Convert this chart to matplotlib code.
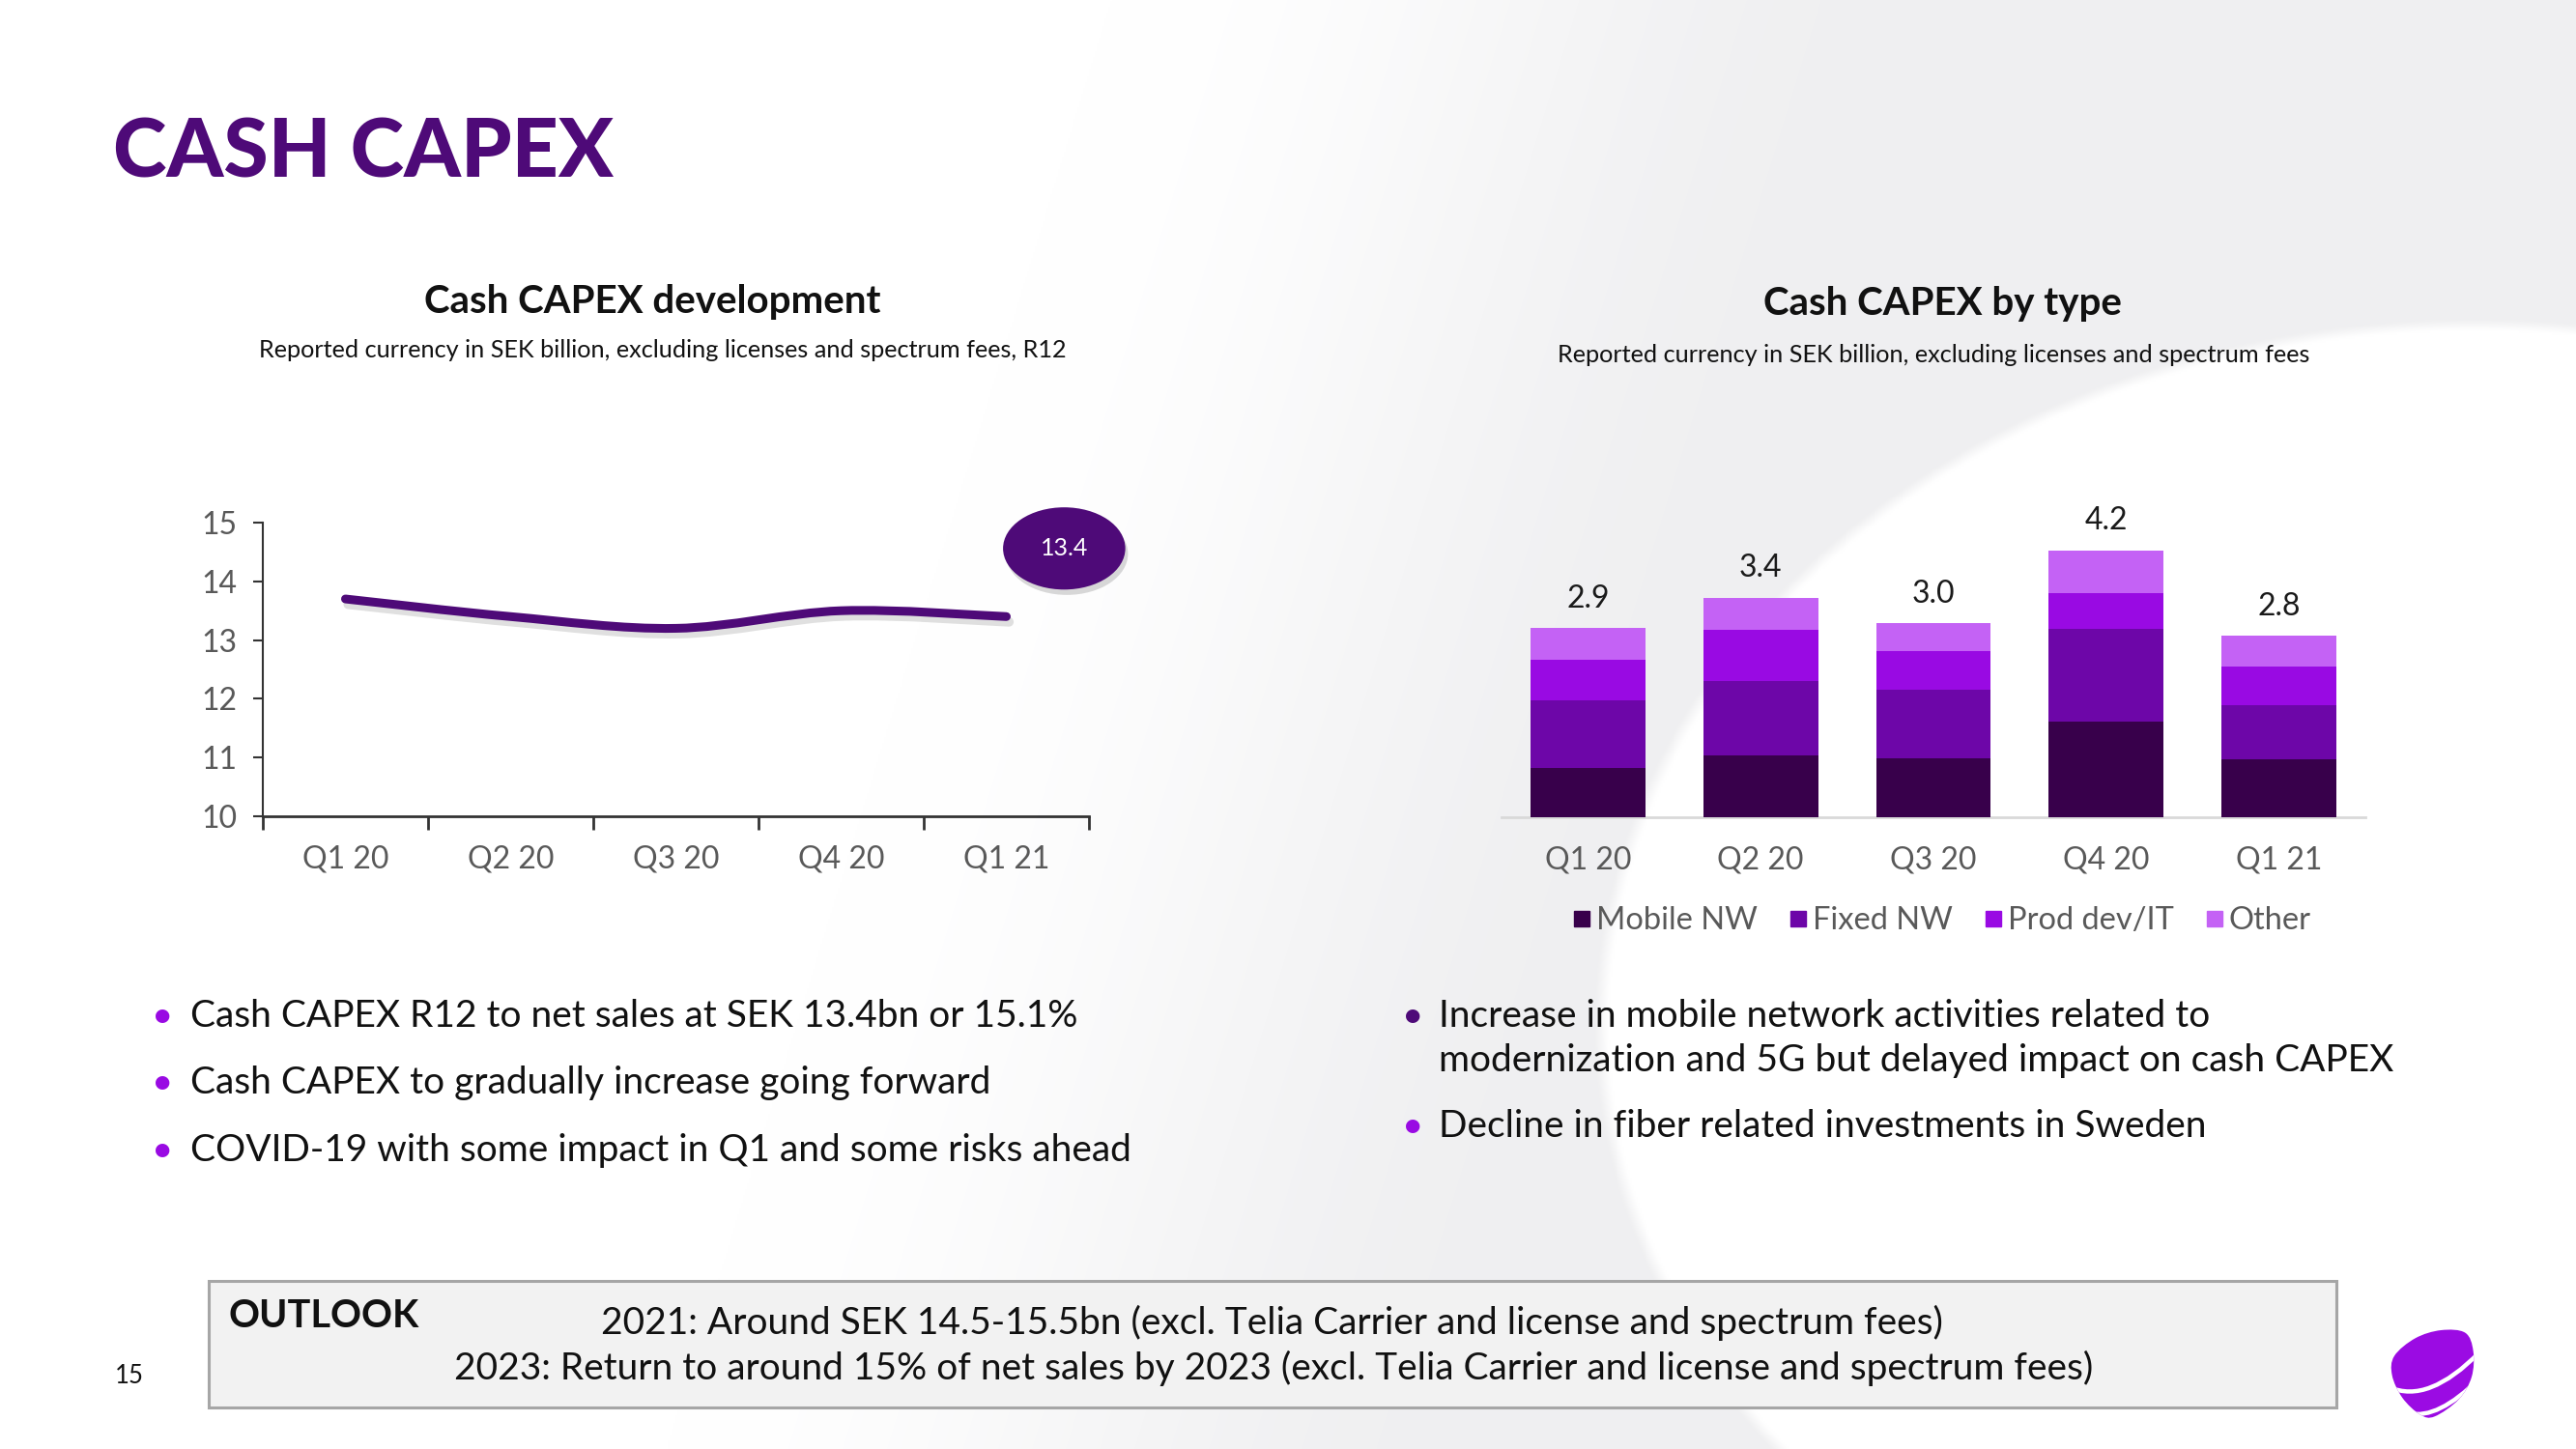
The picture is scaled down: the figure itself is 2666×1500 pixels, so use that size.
import numpy as np
import matplotlib
matplotlib.use("Agg")
import matplotlib.pyplot as plt
from matplotlib.path import Path
from matplotlib.patches import PathPatch, Ellipse, Rectangle
from matplotlib.lines import Line2D
from matplotlib.transforms import ScaledTranslation

# ---------------- data ----------------
line_categories = ["Q1 20", "Q2 20", "Q3 20", "Q4 20", "Q1 21"]
line_values = [13.7, 13.4, 13.2, 13.5, 13.4]
line_yticks = [10, 11, 12, 13, 14, 15]
last_label = "13.4"

bar_categories = ["Q1 20", "Q2 20", "Q3 20", "Q4 20", "Q1 21"]
mobile_nw = [0.76, 0.94, 0.91, 1.46, 0.89]
fixed_nw = [1.03, 1.14, 1.05, 1.42, 0.82]
prod_dev_it = [0.63, 0.79, 0.59, 0.55, 0.60]
other = [0.48, 0.49, 0.42, 0.66, 0.47]
bar_total_labels = ["2.9", "3.4", "3.0", "4.2", "2.8"]
series_names = ["Mobile NW", "Fixed NW", "Prod dev/IT", "Other"]

left_bullets = ["Cash CAPEX R12 to net sales at SEK 13.4bn or 15.1%",
                "Cash CAPEX to gradually increase going forward",
                "COVID-19 with some impact in Q1 and some risks ahead"]
right_bullets = ["Increase in mobile network activities related to",
                 "modernization and 5G but delayed impact on cash CAPEX",
                 "Decline in fiber related investments in Sweden"]
outlook_lines = ["2021: Around SEK 14.5-15.5bn (excl. Telia Carrier and license and spectrum fees)",
                 "2023: Return to around 15% of net sales by 2023 (excl. Telia Carrier and license and spectrum fees)"]

# ---------------- style ----------------
FONT = ["Lato", "DejaVu Sans"]
plt.rcParams["font.family"] = FONT
DARK = "#4E0A78"
PURPLE = "#990AE3"
series_colors = ["#38004B", "#6D06A8", "#990AE3", "#C462F5"]
GRAYTXT = "#595959"

W, H = 2666, 1500
fig = plt.figure(figsize=(W / 100, H / 100), dpi=100)
fx = lambda px: px / W
fy = lambda py: 1 - py / H

# ---------------- background ----------------
bg = fig.add_axes([0, 0, 1, 1], zorder=-10)
bg.set_axis_off()
yy, xx = np.mgrid[0:H:2, 0:W:2].astype(float)
edge = 1150 - 0.307 * yy
t = np.clip((xx - edge) / 800.0, 0, 1)
t = t * t * (3 - 2 * t)
g = 1 - 0.06 * t
e = ((xx - 2560) / 910.0) ** 2 + ((yy - 1060) / 730.0) ** 2
inside = np.clip((1.0 - e) / 0.03, 0, 1)
g = g * (1 - inside) + 1.0 * inside
img = np.dstack([g, g, np.minimum(g + 0.006 * (1 - inside) * t, 1)])
img = np.clip(img, 0, 1)
bg.imshow(img, extent=[0, W, H, 0], aspect="auto", interpolation="bilinear")
bg.set_xlim(0, W)
bg.set_ylim(H, 0)

# ---------------- titles ----------------
fig.text(fx(117), fy(184), "CASH CAPEX", fontsize=60.5, fontweight="black",
         color=DARK, ha="left", va="baseline")
fig.text(fx(675), fy(324), "Cash CAPEX development", fontsize=29, fontweight="bold",
         color="#111111", ha="center", va="baseline")
fig.text(fx(686), fy(370), "Reported currency in SEK billion, excluding licenses and spectrum fees, R12",
         fontsize=18.2, color="#111111", ha="center", va="baseline")
fig.text(fx(2010), fy(326), "Cash CAPEX by type", fontsize=29, fontweight="bold",
         color="#111111", ha="center", va="baseline")
fig.text(fx(2001), fy(375), "Reported currency in SEK billion, excluding licenses and spectrum fees",
         fontsize=18.2, color="#111111", ha="center", va="baseline")

# ---------------- left line chart ----------------
ax1 = fig.add_axes([fx(272), fy(845), fx(855), 304 / H])
ax1.set_facecolor("none")
n = len(line_values)
xs = np.arange(n) + 0.5
P = np.column_stack([xs, line_values])
Pext = np.vstack([P[0], P, P[-1]])
verts = [tuple(P[0])]
codes = [Path.MOVETO]
for i in range(n - 1):
    p0, p1, p2, p3 = Pext[i], Pext[i + 1], Pext[i + 2], Pext[i + 3]
    c1 = p1 + (p2 - p0) / 6.0
    c2 = p2 - (p3 - p1) / 6.0
    verts += [tuple(c1), tuple(c2), tuple(p2)]
    codes += [Path.CURVE4] * 3
curve = Path(verts, codes)
shadow_tr = ax1.transData + ScaledTranslation(2 / 72, -4 / 72, fig.dpi_scale_trans)
ax1.add_patch(PathPatch(curve, fill=False, lw=7, edgecolor="#000000", alpha=0.12,
                        capstyle="round", transform=shadow_tr))
ax1.add_patch(PathPatch(curve, fill=False, lw=6.5, edgecolor=DARK, capstyle="round"))

bx, by = xs[-1] + 0.35, 14.56
ax1.add_patch(Ellipse((bx, by), 0.74, 1.40, facecolor="#000000", alpha=0.15,
                      transform=shadow_tr, clip_on=False))
ax1.add_patch(Ellipse((bx, by), 0.74, 1.40, facecolor=DARK, edgecolor="none", clip_on=False))
ax1.text(bx, by, last_label, color="white", fontsize=18, ha="center", va="center")

ax1.set_xlim(0, n)
ax1.set_ylim(10, 15)
ax1.set_yticks(line_yticks)
ax1.set_xticks(np.arange(n + 1))
ax1.set_xticklabels([])
ax1.set_xticks(xs, minor=True)
ax1.set_xticklabels(line_categories, minor=True)
ax1.tick_params(axis="x", which="major", direction="out", length=10, width=2, color="#333333")
ax1.tick_params(axis="x", which="minor", length=0, pad=21, labelsize=23, labelcolor=GRAYTXT)
ax1.tick_params(axis="y", direction="out", length=7, width=1.5, color="#333333",
                pad=12, labelsize=23, labelcolor=GRAYTXT)
for s in ["top", "right"]:
    ax1.spines[s].set_visible(False)
ax1.spines["left"].set_color("#333333")
ax1.spines["left"].set_linewidth(1.5)
ax1.spines["bottom"].set_color("#333333")
ax1.spines["bottom"].set_linewidth(2)

# ---------------- right stacked bars ----------------
ax2 = fig.add_axes([fx(1554), fy(846), fx(894), 304 / H])
ax2.set_facecolor("none")
bxs = np.arange(len(bar_categories))
bottom = np.zeros(len(bar_categories))
for vals, col, name in zip([mobile_nw, fixed_nw, prod_dev_it, other], series_colors, series_names):
    ax2.bar(bxs, vals, width=0.665, bottom=bottom, color=col, label=name,
            edgecolor="none", zorder=3)
    bottom = bottom + np.array(vals)
for x, tot, lab in zip(bxs, bottom, bar_total_labels):
    ax2.annotate(lab, (x, tot), xytext=(0, 22), textcoords="offset points",
                 ha="center", va="center", fontsize=23, color="#1a1a1a")
ax2.set_xlim(-0.5, len(bar_categories) - 0.5)
ax2.set_ylim(0, 4.5)
ax2.set_yticks([])
ax2.set_xticks(bxs)
ax2.set_xticklabels(bar_categories)
ax2.tick_params(axis="x", length=0, pad=21, labelsize=23, labelcolor=GRAYTXT)
for s in ["top", "right", "left"]:
    ax2.spines[s].set_visible(False)
ax2.spines["bottom"].set_color("#D9D9D9")
ax2.spines["bottom"].set_linewidth(2)

handles = [Line2D([], [], marker="s", linestyle="none", markersize=12, color=c)
           for c in series_colors]
fig.legend(handles, series_names, loc="center", bbox_to_anchor=(fx(2008), fy(953)),
           bbox_transform=fig.transFigure, ncol=4, frameon=False, fontsize=23.5,
           labelcolor=GRAYTXT, handletextpad=0.05, columnspacing=0.9, handlelength=0.8)

# ---------------- bullets ----------------
BUL = 28
for txt, yb in zip(left_bullets, [1063, 1132, 1202]):
    fig.text(fx(157), fy(yb), "•", fontsize=BUL, color=PURPLE, ha="left", va="baseline")
    fig.text(fx(197), fy(yb), txt, fontsize=BUL, color="#111111", ha="left", va="baseline")
fig.text(fx(1451), fy(1063), "•", fontsize=BUL, color=DARK, ha="left", va="baseline")
fig.text(fx(1489), fy(1063), right_bullets[0], fontsize=BUL, color="#111111", ha="left", va="baseline")
fig.text(fx(1489), fy(1109), right_bullets[1], fontsize=BUL, color="#111111", ha="left", va="baseline")
fig.text(fx(1451), fy(1177), "•", fontsize=BUL, color=PURPLE, ha="left", va="baseline")
fig.text(fx(1489), fy(1177), right_bullets[2], fontsize=BUL, color="#111111", ha="left", va="baseline")

# ---------------- outlook box ----------------
fig.patches.append(Rectangle((fx(216), fy(1457)), fx(2418 - 216), 131 / H,
                             transform=fig.transFigure, facecolor="#F2F2F2",
                             edgecolor="#A6A6A6", linewidth=2.2, zorder=1))
fig.text(fx(236), fy(1374), "OUTLOOK", fontsize=28.5, fontweight="bold",
         color="#111111", ha="left", va="baseline")
fig.text(fx(1316), fy(1381), outlook_lines[0], fontsize=28, color="#111111",
         ha="center", va="baseline")
fig.text(fx(1318), fy(1428), outlook_lines[1], fontsize=28, color="#111111",
         ha="center", va="baseline")
fig.text(fx(119), fy(1432), "15", fontsize=18.5, color="#111111", ha="left", va="baseline")

# ---------------- logo ----------------
lg = fig.add_axes([fx(2468), fy(1472), fx(100), 100 / H])
lg.set_axis_off()
lg.set_xlim(0, 1)
lg.set_ylim(0, 1)
pts = np.array([(175, 190), (240, 135), (320, 110), (395, 118), (420, 175), (415, 255),
                (375, 325), (300, 378), (255, 372), (200, 320), (168, 250)], float)
pts = np.column_stack([(pts[:, 0] - 145) / 300, 1 - (pts[:, 1] - 95) / 300])
m = len(pts)
verts = [tuple(pts[0])]
codes = [Path.MOVETO]
for i in range(m):
    p0, p1, p2, p3 = pts[(i - 1) % m], pts[i], pts[(i + 1) % m], pts[(i + 2) % m]
    c1 = p1 + (p2 - p0) / 6.0
    c2 = p2 - (p3 - p1) / 6.0
    verts += [tuple(c1), tuple(c2), tuple(p2)]
    codes += [Path.CURVE4] * 3
pebble = PathPatch(Path(verts, codes), facecolor="#9B0BE3", edgecolor="none")
lg.add_patch(pebble)
for (a, b, c) in [((0.05, 0.36), (0.45, 0.18), (0.98, 0.72)),
                  ((0.25, 0.09), (0.55, 0.02), (0.98, 0.45))]:
    sp = PathPatch(Path([a, b, c], [Path.MOVETO, Path.CURVE3, Path.CURVE3]),
                   fill=False, edgecolor="white", lw=3.2)
    lg.add_patch(sp)
    sp.set_clip_path(pebble)

fig.savefig("out.png", dpi=100)
